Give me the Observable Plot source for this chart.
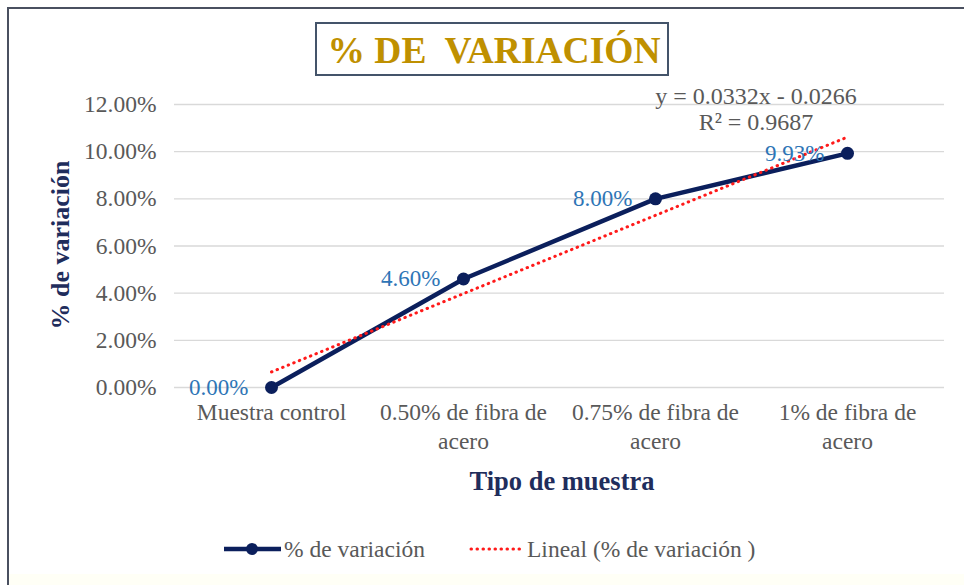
<!DOCTYPE html>
<html>
<head>
<meta charset="utf-8">
<script src="https://cdn.jsdelivr.net/npm/d3@7"></script>
<script src="https://cdn.jsdelivr.net/npm/@observablehq/plot@0.6"></script>
<style>
  html, body { margin: 0; padding: 0; background: #ffffff; }
  #chart { width: 964px; height: 585px; }
</style>
</head>
<body>
<div id="chart"></div>
<script>
// ---- data ----
const categories = ["Muestra control", "0.50% de fibra de acero", "0.75% de fibra de acero", "1% de fibra de acero"];
const tickLabels = ["Muestra control", "0.50% de fibra de\nacero", "0.75% de fibra de\nacero", "1% de fibra de\nacero"];
const variacion = [0.0, 0.046, 0.080, 0.0993];
const dataLabels = ["0.00%", "4.60%", "8.00%", "9.93%"];
const trendValues = [0.0066, 0.0398, 0.0730, 0.1062]; // y = 0.0332x - 0.0266
const yTicks = [0, 0.02, 0.04, 0.06, 0.08, 0.10, 0.12];
const titleText = "% DE  VARIACIÓN";
const equationText = "y = 0.0332x - 0.0266";
const r2Text = "R² = 0.9687";
const yTitle = "% de variación";
const xTitle = "Tipo de muestra";
const legendSeries = "% de variación";
const legendTrend = "Lineal (% de variación )";

const series = categories.map((c, i) => ({cat: c, v: variacion[i], label: dataLabels[i]}));
const trend = categories.map((c, i) => ({cat: c, v: trendValues[i]}));

const NAVY = "#0b1f5c";
const GRAY = "#595959";
const RED = "#ff1a1a";
const FONT = "Liberation Serif";

const svg = Plot.plot({
  width: 964,
  height: 585,
  marginTop: 104,
  marginBottom: 198,
  marginLeft: 174,
  marginRight: 20,
  style: {fontFamily: FONT, color: GRAY, background: "transparent"},
  x: {type: "point", domain: categories, padding: 0.5},
  y: {domain: [0, 0.12]},
  marks: [
    Plot.gridY(yTicks, {stroke: "#d9d9d9", strokeOpacity: 1, strokeWidth: 1.3}),
    Plot.axisY(yTicks, {tickSize: 0, tickPadding: 18, fontSize: 23.5, tickFormat: d3.format(".2%"), label: null, fill: GRAY}),
    Plot.axisX({tickSize: 0, tickPadding: 12, fontSize: 23.5, lineHeight: 1.23, label: null, fill: GRAY,
      tickFormat: d => tickLabels[categories.indexOf(d)]}),
    Plot.line(series, {x: "cat", y: "v", stroke: NAVY, strokeWidth: 4.5}),
    Plot.dot(series, {x: "cat", y: "v", r: 6.5, fill: NAVY}),
    Plot.line(trend, {x: "cat", y: "v", stroke: RED, strokeWidth: 3, strokeLinecap: "round", strokeDasharray: "0.5 5.5"}),
    Plot.text(series, {x: "cat", y: "v", text: "label", textAnchor: "end", dx: -23, dy: 0, fill: "#2E75B6", fontSize: 23})
  ]
});

const s = d3.select(svg);
// frame border (top/left visible)
s.insert("rect", ":first-child").attr("x", 8).attr("y", 8).attr("width", 1000).attr("height", 620)
  .attr("fill", "#ffffff").attr("stroke", "#4a5060").attr("stroke-width", 2);
s.insert("rect", ":nth-child(2)").attr("x", 9).attr("y", 574).attr("width", 955).attr("height", 11)
  .attr("fill", "#fffff6");

const txt = (x, y, str, size, fill, weight) => s.append("text")
  .attr("x", x).attr("y", y).attr("font-family", FONT).attr("font-size", size)
  .attr("fill", fill).attr("font-weight", weight || "normal").style("white-space", "pre").text(str);

// title box
s.append("rect").attr("x", 316).attr("y", 23).attr("width", 352).attr("height", 52)
  .attr("fill", "#ffffff").attr("stroke", "#44546a").attr("stroke-width", 2);
txt(494, 63, titleText, 37.5, "#bf9000", "bold").attr("text-anchor", "middle");

// equation
txt(756, 104, equationText, 24, GRAY).attr("text-anchor", "middle");
txt(756, 130, r2Text, 24, GRAY).attr("text-anchor", "middle");

// axis titles
s.append("text").attr("transform", "translate(69,245) rotate(-90)").attr("text-anchor", "middle")
  .attr("font-family", FONT).attr("font-weight", "bold").attr("font-size", 26)
  .attr("fill", "#1f2d5c").text(yTitle);
txt(562, 490, xTitle, 26.5, "#1f2d5c", "bold").attr("text-anchor", "middle");

// legend
const lg = s.append("g");
lg.append("line").attr("x1", 224).attr("x2", 281).attr("y1", 549).attr("y2", 549)
  .attr("stroke", NAVY).attr("stroke-width", 4.5);
lg.append("circle").attr("cx", 252).attr("cy", 549).attr("r", 6).attr("fill", NAVY);
txt(284, 557, legendSeries, 23.5, GRAY).attr("text-anchor", "start");
lg.append("line").attr("x1", 471).attr("x2", 524).attr("y1", 549).attr("y2", 549)
  .attr("stroke", RED).attr("stroke-width", 3).attr("stroke-linecap", "round").attr("stroke-dasharray", "0.5 5.5");
txt(527, 557, legendTrend, 23.5, GRAY).attr("text-anchor", "start");

document.getElementById("chart").appendChild(svg);
</script>
</body>
</html>
